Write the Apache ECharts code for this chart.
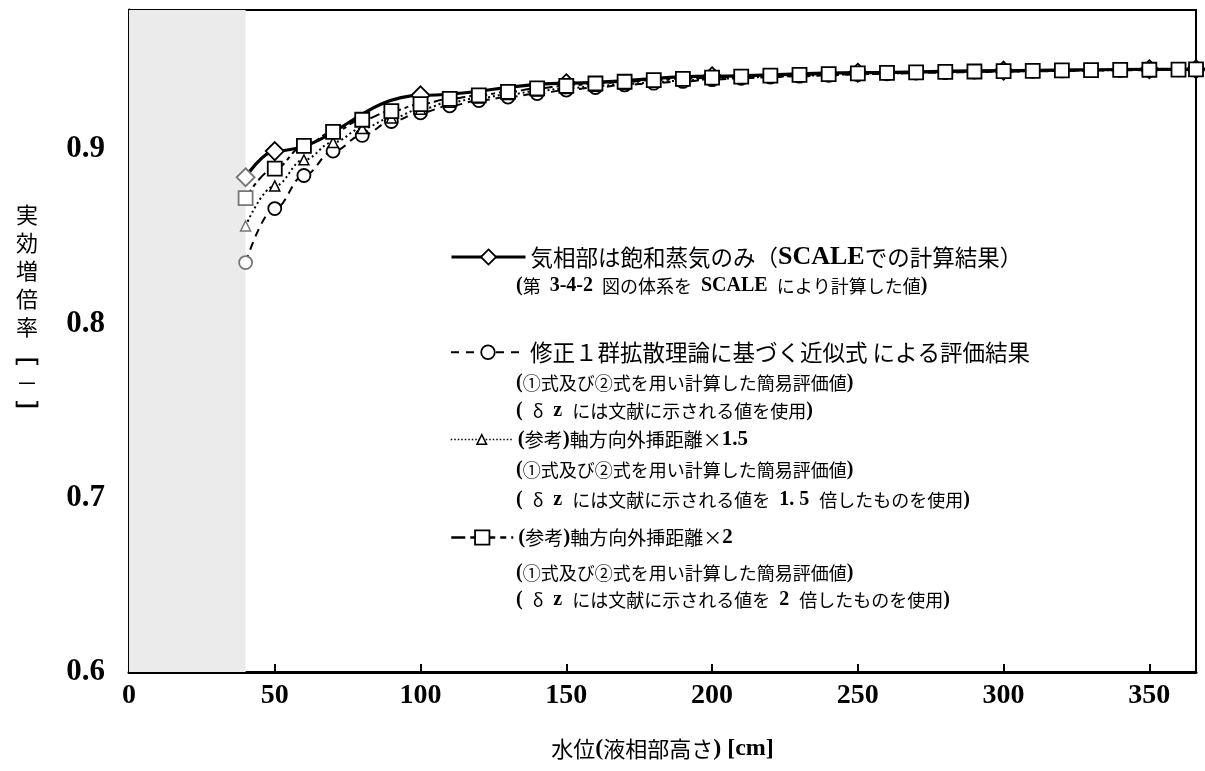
<!DOCTYPE html>
<html>
<head>
<meta charset="utf-8">
<script src="https://cdn.jsdelivr.net/npm/echarts@6/dist/echarts.min.js"></script>
<style>html,body{margin:0;padding:0;background:#fff}#c{width:1205px;height:771px}</style>
</head>
<body>
<div id="c"></div>
<script>
// ---- data ----
const xTickLabels = ['0', '50', '100', '150', '200', '250', '300', '350'];
const yTickLabels = ['0.6', '0.7', '0.8', '0.9'];
const shadedRange = [0, 40];

const levelX = [40, 50, 60, 70, 80, 90, 100, 110, 120, 130, 140, 150, 160, 170, 180, 190, 200,
  210, 220, 230, 240, 250, 260, 270, 280, 290, 300, 310, 320, 330, 340, 350, 360, 366];

const scaleX = [40, 50, 100, 150, 200, 250, 300, 350, 366];
const scaleK = [0.884, 0.899, 0.931, 0.938, 0.942, 0.944, 0.9452, 0.946, 0.946];

const approxK = [0.835, 0.866, 0.885, 0.899, 0.908, 0.916, 0.921, 0.925, 0.928, 0.930, 0.932, 0.934,
  0.9355, 0.937, 0.938, 0.939, 0.940, 0.9408, 0.9415, 0.942, 0.9425, 0.943, 0.9434, 0.9438,
  0.9441, 0.9444, 0.9446, 0.9448, 0.945, 0.9452, 0.9454, 0.9455, 0.9457, 0.9458];

const ext15K = [0.856, 0.879, 0.894, 0.904, 0.912, 0.918, 0.923, 0.927, 0.9295, 0.9315, 0.9335, 0.935,
  0.9363, 0.9375, 0.9385, 0.9395, 0.9403, 0.941, 0.9417, 0.9422, 0.9427, 0.9432, 0.9436, 0.944,
  0.9443, 0.9445, 0.9447, 0.9449, 0.9451, 0.9453, 0.9455, 0.9456, 0.9457, 0.9458];

const ext2K = [0.872, 0.889, 0.902, 0.910, 0.917, 0.922, 0.926, 0.929, 0.931, 0.933, 0.935, 0.9365,
  0.9378, 0.9388, 0.9397, 0.9405, 0.9412, 0.9418, 0.9423, 0.9428, 0.9432, 0.9436, 0.9439, 0.9442,
  0.9445, 0.9447, 0.9449, 0.9451, 0.9453, 0.9455, 0.9456, 0.9457, 0.9458, 0.9459];

const nameScale = '気相部は飽和蒸気のみ（SCALEでの計算結果）';
const nameApprox = '修正１群拡散理論に基づく近似式による評価結果';
const nameExt15 = '(参考)軸方向外挿距離×1.5';
const nameExt2 = '(参考)軸方向外挿距離×2';

// ---- helpers ----
const SERIF = "'Liberation Serif','Noto Sans CJK JP'";
const CJK = "'Noto Sans CJK JP'";
const SP = '\u2002';
function pairs(xs, ys) {
  return xs.map((x, i) => {
    const d = { value: [x, ys[i]] };
    if (x === shadedRange[1]) d.itemStyle = { borderColor: '#777' };
    return d;
  });
}
const richBig = {
  n: { fontFamily: CJK, fontSize: 22.5, color: '#000', lineHeight: 26 },
  b: { fontFamily: SERIF, fontSize: 26, fontWeight: 'bold', color: '#000', lineHeight: 26 }
};
const richMid = {
  n: { fontFamily: CJK, fontSize: 19, color: '#000', lineHeight: 24 },
  b: { fontFamily: SERIF, fontSize: 21, fontWeight: 'bold', color: '#000', lineHeight: 24 }
};
const subRich = {
  n: { fontFamily: CJK, fontSize: 18, fill: '#000' },
  b: { fontFamily: SERIF, fontSize: 20, fontWeight: 'bold', fill: '#000' }
};
function sub(x, y, text) {
  return { type: 'text', x: x, y: y, silent: true,
    style: { text: text, rich: subRich, verticalAlign: 'middle', fill: '#000' } };
}

const chart = echarts.init(document.getElementById('c'), null, { renderer: 'canvas' });

chart.setOption({
  backgroundColor: '#fff',
  animation: false,
  grid: { left: 129, right: 9, top: 10, bottom: 99, show: true, borderColor: '#000', borderWidth: 2 },
  xAxis: {
    type: 'value', min: 0, max: 366, interval: 50,
    name: '{n|水位}{b|(}{n|液相部高さ}{b|) [cm]}',
    nameLocation: 'middle', nameGap: 77,
    nameTextStyle: {
      verticalAlign: 'middle',
      rich: {
        n: { fontFamily: CJK, fontSize: 22, color: '#000' },
        b: { fontFamily: SERIF, fontSize: 24, fontWeight: 'bold', color: '#000' }
      }
    },
    axisLine: { lineStyle: { color: '#000', width: 3 } },
    axisTick: { inside: true, length: 8, lineStyle: { color: '#000', width: 2 } },
    axisLabel: {
      margin: 10, showMaxLabel: false, color: '#000',
      fontFamily: SERIF, fontSize: 28, fontWeight: 'bold',
      formatter: v => xTickLabels[Math.round(v / 50)] || ''
    },
    splitLine: { show: false }
  },
  yAxis: {
    type: 'value', min: 0.6, max: 0.98, interval: 0.1,
    name: '{n|実}\n{n|効}\n{n|増}\n{n|倍}\n{n|率}\n{t|﹇}\n{n|－}\n{u|﹈}',
    nameLocation: 'middle', nameRotate: 0, nameGap: 102,
    nameTextStyle: {
      align: 'center', verticalAlign: 'middle',
      padding: [0, 0, 56, 0],
      rich: {
        n: { fontFamily: CJK, fontSize: 22, color: '#000', lineHeight: 28 },
        t: { fontFamily: CJK, fontSize: 24, fontWeight: 'bold', color: '#000', lineHeight: 28, verticalAlign: 'top' },
        u: { fontFamily: CJK, fontSize: 24, fontWeight: 'bold', color: '#000', lineHeight: 28, verticalAlign: 'bottom' }
      }
    },
    axisLine: { lineStyle: { color: '#000', width: 3 } },
    axisTick: { inside: true, length: 7, lineStyle: { color: '#000', width: 2 } },
    axisLabel: {
      margin: 24, showMaxLabel: false, color: '#000',
      fontFamily: SERIF, fontSize: 31, fontWeight: 'bold',
      formatter: v => yTickLabels[Math.round((v - 0.6) * 10)] || ''
    },
    splitLine: { show: false }
  },
  legend: [
    { data: [nameScale], left: 450, top: 244, itemWidth: 74, itemHeight: 19, padding: 0,
      itemStyle: { color: '#fff', borderColor: '#000', borderWidth: 1.8 },
      lineStyle: { color: '#000', width: 3, type: 'solid' },
      textStyle: { rich: richBig },
      formatter: () => '{n|気相部は飽和蒸気のみ（}{b|SCALE}{n|での計算結果）}' },
    { data: [nameApprox], left: 450, top: 341, itemWidth: 74, itemHeight: 17, padding: 0,
      itemStyle: { color: '#fff', borderColor: '#000', borderWidth: 1.8 },
      lineStyle: { color: '#000', width: 2, type: [8, 7] },
      textStyle: { rich: richBig },
      formatter: () => '{n|修正１群拡散理論に基づく近似式 による評価結果}' },
    { data: [nameExt15], left: 450, top: 429, itemWidth: 62, itemHeight: 12, padding: 0,
      itemStyle: { color: '#fff', borderColor: '#000', borderWidth: 1.5 },
      lineStyle: { color: '#000', width: 1.5, type: [1.5, 2] },
      textStyle: { rich: richMid },
      formatter: () => '{b|(}{n|参考}{b|)}{n|軸方向外挿距離×}{b|1.5}' },
    { data: [nameExt2], left: 450, top: 527, itemWidth: 62, itemHeight: 18, padding: 0,
      itemStyle: { color: '#fff', borderColor: '#000', borderWidth: 1.8 },
      lineStyle: { color: '#000', width: 2.5, type: [14, 5, 6, 5] },
      textStyle: { rich: richMid },
      formatter: () => '{b|(}{n|参考}{b|)}{n|軸方向外挿距離×}{b|2}' }
  ],
  graphic: [
    sub(516, 286, '{b|(}{n|第' + SP + '}{b|3-4-2}{n|' + SP + '図の体系を' + SP + '}{b|SCALE}{n|' + SP + 'により計算した値}{b|)}'),
    sub(516, 383, '{b|(}{n|①式及び②式を用い計算した簡易評価値}{b|)}'),
    sub(516, 411, '{b|(' + SP + '}{n|δ}{b|' + SP + 'z' + SP + '}{n|には文献に示される値を使用}{b|)}'),
    sub(516, 470, '{b|(}{n|①式及び②式を用い計算した簡易評価値}{b|)}'),
    sub(516, 500, '{b|(' + SP + '}{n|δ}{b|' + SP + 'z' + SP + '}{n|には文献に示される値を' + SP + '}{b|1. 5' + SP + '}{n|倍したものを使用}{b|)}'),
    sub(516, 573, '{b|(}{n|①式及び②式を用い計算した簡易評価値}{b|)}'),
    sub(516, 600, '{b|(' + SP + '}{n|δ}{b|' + SP + 'z' + SP + '}{n|には文献に示される値を' + SP + '}{b|2' + SP + '}{n|倍したものを使用}{b|)}')
  ],
  series: [
    {
      name: '_band', type: 'line', data: [], z: 1, silent: true,
      markArea: { silent: true, itemStyle: { color: '#ebebeb' },
        data: [[{ xAxis: shadedRange[0] }, { xAxis: shadedRange[1] }]] }
    },
    {
      name: nameApprox, type: 'line', z: 3, data: pairs(levelX, approxK),
      smooth: 0.4, smoothMonotone: 'x',
      symbol: 'circle', symbolSize: 13,
      lineStyle: { color: '#000', width: 2, type: [8, 6] },
      itemStyle: { color: '#fff', borderColor: '#000', borderWidth: 1.8 }
    },
    {
      name: nameExt15, type: 'line', z: 4, data: pairs(levelX, ext15K),
      smooth: 0.4, smoothMonotone: 'x',
      symbol: 'triangle', symbolSize: 10,
      lineStyle: { color: '#000', width: 2, type: [2, 3] },
      itemStyle: { color: '#fff', borderColor: '#000', borderWidth: 1.5 }
    },
    {
      name: nameScale, type: 'line', z: 5, data: pairs(scaleX, scaleK),
      smooth: 0.4, smoothMonotone: 'x',
      symbol: 'diamond', symbolSize: 18,
      lineStyle: { color: '#000', width: 3.2 },
      itemStyle: { color: '#fff', borderColor: '#000', borderWidth: 1.8 }
    },
    {
      name: nameExt2, type: 'line', z: 6, data: pairs(levelX, ext2K),
      smooth: 0.4, smoothMonotone: 'x',
      symbol: 'rect', symbolSize: 14,
      lineStyle: { color: '#000', width: 2, type: [10, 4, 4, 4] },
      itemStyle: { color: '#fff', borderColor: '#000', borderWidth: 1.8 }
    }
  ]
});
</script>
</body>
</html>
